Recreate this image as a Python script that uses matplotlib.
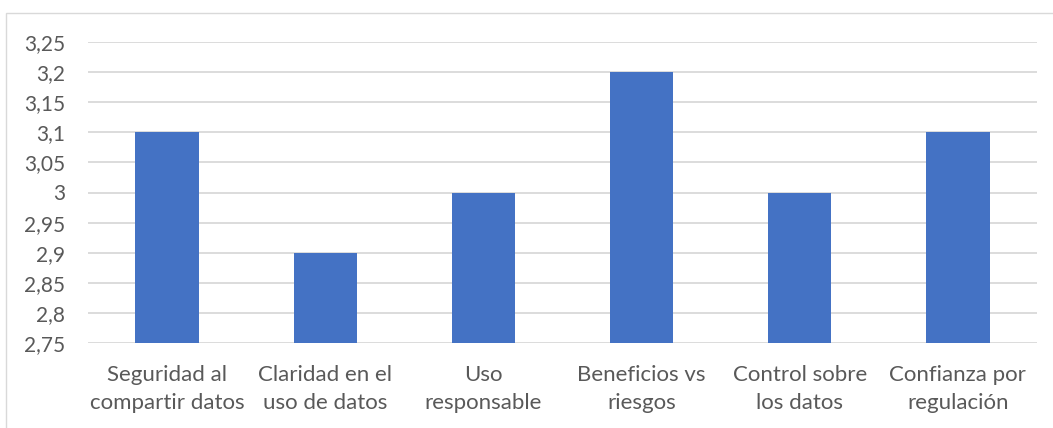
import matplotlib
matplotlib.use("Agg")
import matplotlib.pyplot as plt
from matplotlib.patches import Rectangle
from matplotlib.ticker import FixedLocator, FuncFormatter

categories = [
    "Seguridad al\ncompartir datos",
    "Claridad en el\nuso de datos",
    "Uso\nresponsable",
    "Beneficios vs\nriesgos",
    "Control sobre\nlos datos",
    "Confianza por\nregulación",
]
values = [3.1, 2.9, 3.0, 3.2, 3.0, 3.1]
y_ticks = [2.75, 2.8, 2.85, 2.9, 2.95, 3.0, 3.05, 3.1, 3.15, 3.2, 3.25]

BAR = "#4472C4"
GRID = "#D9D9D9"
TEXT = "#595959"

plt.rcParams["font.family"] = ["Lato", "DejaVu Sans"]

W, H = 1053, 428
fig = plt.figure(figsize=(W / 100, H / 100), dpi=100)
fig.patch.set_facecolor("white")

# outer chart frame
fig.patches.append(Rectangle((6 / W, -0.1), 1.2, (H - 13) / H + 0.1,
                             transform=fig.transFigure, fill=False,
                             edgecolor=GRID, linewidth=1.0))

ax = fig.add_axes([88 / W, (H - 343) / H, (1037 - 88) / W, (343 - 42) / H])
x = range(len(categories))
ax.bar(x, values, width=0.4, color=BAR, zorder=2)

ax.set_xlim(-0.5, len(categories) - 0.5)
ax.set_ylim(2.75, 3.25)
ax.yaxis.set_major_locator(FixedLocator(y_ticks))


def fmt(v, _pos):
    s = f"{v:.2f}".rstrip("0").rstrip(".")
    return s.replace(".", ",")


ax.yaxis.set_major_formatter(FuncFormatter(fmt))
ax.grid(axis="y", color=GRID, linewidth=1.3, zorder=0)
for sp in ax.spines.values():
    sp.set_visible(False)
ax.tick_params(axis="y", length=0, pad=16.5, labelsize=15, labelcolor=TEXT)
ax.tick_params(axis="x", length=0, pad=16, labelsize=16, labelcolor=TEXT)
ax.set_xticks(list(x))
ax.set_xticklabels(categories, linespacing=1.5)

fig.savefig("out.png", dpi=100)
